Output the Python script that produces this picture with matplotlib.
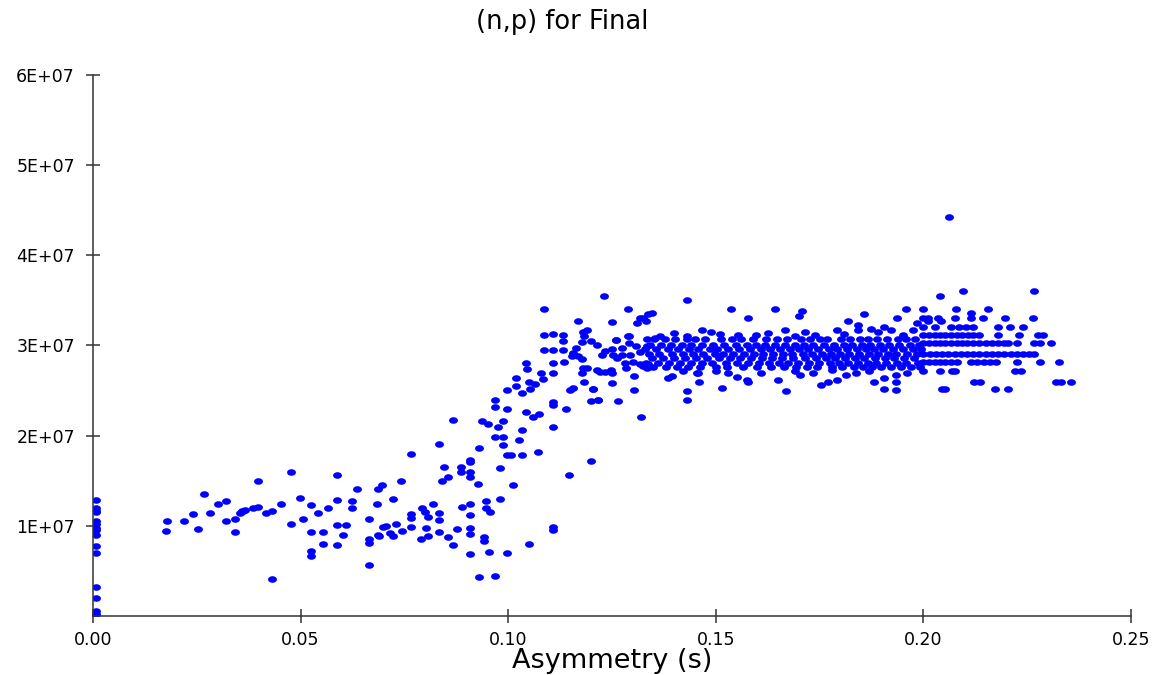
import matplotlib
matplotlib.use("Agg")
import matplotlib.pyplot as plt
from matplotlib.path import Path
from matplotlib.ticker import FixedLocator, FuncFormatter
import numpy as np

# rates are in units of 1E+07
zero_asym = [0.0007] * 15
zero_rate = [1.29, 1.20, 1.17, 1.15, 1.05, 1.02, 0.98, 0.95, 0.90, 0.78, 0.70, 0.32, 0.20, 0.05, 0.02]

low_asym = [0.0175, 0.0179, 0.0219, 0.0242, 0.0253, 0.0268, 0.0283, 0.0302, 0.0320, 0.0320,
            0.0342, 0.0342, 0.0354, 0.0358, 0.0362, 0.0366, 0.0385, 0.0398, 0.0398, 0.0417,
            0.0432, 0.0432, 0.0454, 0.0476, 0.0476, 0.0498, 0.0507, 0.0525, 0.0525, 0.0525,
            0.0525, 0.0543, 0.0555, 0.0555, 0.0565, 0.0587, 0.0587, 0.0587, 0.0587, 0.0603,
            0.0609, 0.0625, 0.0625, 0.0637, 0.0666, 0.0666, 0.0666, 0.0666, 0.0683, 0.0686,
            0.0686]
low_rate = [0.943, 1.054, 1.050, 1.130, 0.970, 1.354, 1.143, 1.246, 1.273, 1.054,
            1.077, 0.932, 1.143, 1.170, 1.160, 1.180, 1.200, 1.210, 1.495, 1.143,
            1.169, 0.407, 1.246, 1.598, 1.024, 1.313, 1.077, 1.232, 0.932, 0.725,
            0.670, 1.143, 0.932, 0.800, 1.195, 1.560, 1.287, 1.010, 0.790, 0.896,
            1.010, 1.273, 1.195, 1.406, 1.077, 0.858, 0.814, 0.566, 1.246, 1.406,
            0.896]

mid_asym = [0.0695, 0.0690, 0.0699, 0.0705, 0.0715, 0.0723, 0.0722, 0.0730, 0.0741, 0.0745,
            0.0766, 0.0766, 0.0766, 0.0766, 0.0789, 0.0792, 0.0800, 0.0808, 0.0801, 0.0808,
            0.0820, 0.0833, 0.0833, 0.0833, 0.0833, 0.0841, 0.0856, 0.0845, 0.0856, 0.0868,
            0.0868, 0.0876, 0.0886, 0.0886, 0.0890, 0.0908, 0.0908, 0.0908, 0.0908, 0.0908,
            0.0908, 0.0908, 0.0908, 0.0908, 0.0927, 0.0930, 0.0930, 0.0936, 0.0952, 0.0942,
            0.0942, 0.0946, 0.0946, 0.0956, 0.0954, 0.0968, 0.0968, 0.0968, 0.0968, 0.0976,
            0.0980, 0.0980, 0.0987, 0.0987, 0.0987, 0.0997, 0.0997, 0.0997, 0.1008, 0.0998]
mid_rate = [1.454, 0.891, 0.984, 0.999, 0.918, 0.891, 1.299, 1.024, 1.495, 0.947,
            1.798, 1.130, 1.085, 0.991, 0.855, 1.199, 1.158, 1.102, 0.973, 0.891,
            1.246, 1.912, 1.147, 1.065, 0.936, 1.495, 1.546, 1.654, 0.880, 2.175,
            0.788, 0.962, 1.654, 1.600, 1.206, 1.731, 1.709, 1.600, 1.546, 1.246,
            1.121, 0.973, 0.910, 0.685, 1.468, 1.861, 0.436, 2.168, 2.134, 0.873,
            0.836, 1.276, 1.195, 1.158, 0.714, 2.401, 2.316, 1.990, 0.447, 2.100,
            1.639, 1.299, 2.164, 1.990, 1.901, 2.505, 2.294, 1.784, 1.784, 0.696]

rise_asym = [0.1012, 0.1019, 0.1019, 0.1027, 0.1034, 0.1034, 0.1034, 0.1042, 0.1046, 0.1042,
             0.1050, 0.1050, 0.1052, 0.1065, 0.1060, 0.1074, 0.1073, 0.1080, 0.1085, 0.1087,
             0.1087, 0.1087, 0.1109, 0.1109, 0.1109, 0.1109, 0.1109, 0.1109, 0.1109, 0.1109,
             0.1109, 0.1131, 0.1131, 0.1131, 0.1135, 0.1139, 0.1146, 0.1149, 0.1157, 0.1169,
             0.1181, 0.1191, 0.1183, 0.1199, 0.1177, 0.1157, 0.1163, 0.1169, 0.1177, 0.1153,
             0.1181, 0.1189, 0.1177, 0.1183, 0.1205, 0.1199, 0.1217, 0.1199, 0.1213, 0.1233,
             0.1225, 0.1249, 0.1253, 0.1259, 0.1232, 0.1251, 0.1213, 0.1221, 0.1233, 0.1248,
             0.1251, 0.1249, 0.1265, 0.1289, 0.1292, 0.1273, 0.1273, 0.1263, 0.1281, 0.1293,
             0.1309, 0.1317, 0.1334, 0.1301, 0.1284, 0.1317, 0.1325, 0.1337, 0.1334, 0.1304,
             0.1303, 0.1288, 0.1292, 0.1311, 0.1317, 0.1337, 0.1321, 0.1205, 0.1217, 0.1259]
rise_rate = [1.457, 2.645, 2.553, 1.950, 2.478, 2.061, 1.784, 2.805, 2.738, 2.257,
             0.800, 2.600, 2.520, 2.570, 2.205, 2.240, 1.824, 2.694, 2.630, 3.407,
             3.119, 2.949, 3.130, 2.949, 2.805, 2.700, 2.378, 2.345, 2.098, 0.991,
             0.955, 3.119, 3.055, 2.949, 2.822, 2.294, 1.561, 2.508, 2.530, 3.274,
             3.150, 3.170, 3.100, 3.050, 3.040, 2.920, 2.970, 2.880, 2.850, 2.880,
             2.750, 2.750, 2.700, 2.600, 2.520, 2.380, 2.400, 1.717, 3.000, 2.940,
             2.900, 2.960, 2.900, 3.060, 3.552, 3.260, 2.730, 2.710, 2.710, 2.730,
             2.690, 2.580, 2.390, 3.110, 3.030, 2.970, 2.900, 2.860, 2.810, 2.900,
             2.990, 2.930, 2.990, 2.820, 2.750, 2.800, 2.770, 2.790, 2.750, 2.660,
             2.510, 3.407, 3.100, 3.250, 3.300, 3.350, 2.205, 2.516, 2.397, 3.063]

# scattered points around the plateau
edge_asym = [0.1354, 0.1366, 0.1430, 0.1466, 0.1488, 0.1554, 0.1598, 0.1667, 0.1690, 0.1715,
             0.1791, 0.1843, 0.1843, 0.1875, 0.1890, 0.1905, 0.1923, 0.1976, 0.1984, 0.1510,
             0.1625, 0.1740, 0.1810, 0.1950, 0.1400,
             0.1394, 0.1386, 0.1454, 0.1458, 0.1530, 0.1552, 0.1459, 0.1576, 0.1578, 0.1650,
             0.1703, 0.1735, 0.1781, 0.1753, 0.1771, 0.1793, 0.1814, 0.1838, 0.1880, 0.1905,
             0.1905, 0.1934, 0.1934, 0.1934, 0.1668, 0.1516, 0.1430, 0.1430, 0.1610, 0.1690,
             0.1870, 0.1960, 0.1420, 0.1500,
             0.1430, 0.1536, 0.1578, 0.1643, 0.1707, 0.1701, 0.1858, 0.1819, 0.1937, 0.1958,
             0.1346, 0.1333, 0.1325, 0.2062]
edge_rate = [3.08, 3.10, 3.11, 3.17, 3.15, 3.12, 3.12, 3.17, 3.10, 3.15,
             3.17, 3.23, 3.17, 3.18, 3.15, 3.20, 3.17, 3.17, 3.25, 3.13,
             3.14, 3.12, 3.13, 3.12, 3.14,
             2.66, 2.64, 2.70, 2.69, 2.70, 2.65, 2.60, 2.62, 2.59, 2.62,
             2.675, 2.70, 2.73, 2.56, 2.59, 2.62, 2.675, 2.70, 2.59, 2.52,
             2.645, 2.51, 2.59, 2.675, 2.50, 2.53, 2.50, 2.40, 2.70, 2.72,
             2.72, 2.70, 2.72, 2.72,
             3.50, 3.40, 3.30, 3.40, 3.38, 3.33, 3.35, 3.27, 3.30, 3.40,
             3.36, 3.27, 3.30, 4.43]

# dense band of the plateau, one list of asymmetries per rate level
band_rate = [3.07, 3.01, 2.96, 2.91, 2.86, 2.81, 2.76]
band_asym = [
    [0.1335, 0.1352, 0.1378, 0.1402, 0.1431, 0.1449, 0.1473, 0.1512, 0.1539, 0.1561, 0.1590, 0.1622,
     0.1648, 0.1671, 0.1705, 0.1728, 0.1752, 0.1769, 0.1801, 0.1823, 0.1847, 0.1866, 0.1889, 0.1912,
     0.1938, 0.1957, 0.1981],
    [0.1341, 0.1369, 0.1392, 0.1418, 0.1440, 0.1466, 0.1494, 0.1521, 0.1548, 0.1575, 0.1597, 0.1619,
     0.1643, 0.1666, 0.1690, 0.1713, 0.1735, 0.1760, 0.1784, 0.1808, 0.1829, 0.1852, 0.1871, 0.1895,
     0.1917, 0.1942, 0.1968, 0.1990],
    [0.1330, 0.1357, 0.1384, 0.1409, 0.1436, 0.1458, 0.1485, 0.1503, 0.1530, 0.1556, 0.1583, 0.1608,
     0.1630, 0.1655, 0.1679, 0.1701, 0.1722, 0.1747, 0.1772, 0.1793, 0.1817, 0.1840, 0.1862, 0.1880,
     0.1903, 0.1926, 0.1950, 0.1975, 0.1995],
    [0.1338, 0.1363, 0.1395, 0.1421, 0.1444, 0.1470, 0.1497, 0.1517, 0.1542, 0.1569, 0.1592, 0.1614,
     0.1639, 0.1661, 0.1684, 0.1709, 0.1731, 0.1756, 0.1778, 0.1799, 0.1821, 0.1845, 0.1869, 0.1891,
     0.1914, 0.1933, 0.1961, 0.1984],
    [0.1346, 0.1374, 0.1400, 0.1427, 0.1453, 0.1479, 0.1508, 0.1534, 0.1559, 0.1586, 0.1611, 0.1636,
     0.1659, 0.1687, 0.1716, 0.1741, 0.1765, 0.1788, 0.1812, 0.1836, 0.1858, 0.1884, 0.1907, 0.1929,
     0.1954, 0.1978],
    [0.1333, 0.1360, 0.1388, 0.1414, 0.1441, 0.1468, 0.1490, 0.1525, 0.1551, 0.1578, 0.1603, 0.1628,
     0.1652, 0.1675, 0.1697, 0.1724, 0.1749, 0.1775, 0.1796, 0.1819, 0.1843, 0.1866, 0.1887, 0.1910,
     0.1936, 0.1959, 0.1987],
    [0.1349, 0.1381, 0.1406, 0.1434, 0.1462, 0.1500, 0.1528, 0.1566, 0.1600, 0.1633, 0.1664, 0.1693,
     0.1720, 0.1744, 0.1781, 0.1805, 0.1833, 0.1855, 0.1877, 0.1898, 0.1922, 0.1946, 0.1970, 0.1993],
]

# high asymmetry tail, rates come out on discrete levels
tail_rate = [3.60, 3.55, 3.41, 3.36, 3.30, 3.27, 3.20, 3.12, 3.03, 2.91, 2.82, 2.72, 2.60, 2.52]
tail_asym = [
    [0.2095, 0.2266],
    [0.2040],
    [0.2000, 0.2078, 0.2155],
    [0.2115],
    [0.2000, 0.2010, 0.2035, 0.2076, 0.2115, 0.2144, 0.2197, 0.2263],
    [0.2011, 0.2043],
    [0.2000, 0.2027, 0.2067, 0.2087, 0.2103, 0.2119, 0.2179, 0.2209, 0.2240],
    [0.2000, 0.2013, 0.2027, 0.2040, 0.2053, 0.2067, 0.2080, 0.2093, 0.2107, 0.2120, 0.2135, 0.2179,
     0.2231, 0.2275, 0.2288],
    [0.2000, 0.2013, 0.2027, 0.2040, 0.2053, 0.2067, 0.2080, 0.2093, 0.2104, 0.2120, 0.2135, 0.2150,
     0.2165, 0.2180, 0.2195, 0.2205, 0.2225, 0.2267, 0.2280, 0.2307],
    [0.2000, 0.2015, 0.2030, 0.2045, 0.2060, 0.2075, 0.2090, 0.2105, 0.2120, 0.2135, 0.2150, 0.2165,
     0.2180, 0.2195, 0.2210, 0.2225, 0.2240, 0.2255, 0.2267],
    [0.2000, 0.2013, 0.2027, 0.2040, 0.2053, 0.2067, 0.2080, 0.2115, 0.2130, 0.2145, 0.2160, 0.2176,
     0.2225, 0.2282, 0.2327],
    [0.2000, 0.2040, 0.2068, 0.2076, 0.2220, 0.2235],
    [0.2122, 0.2136, 0.2319, 0.2331, 0.2355],
    [0.2046, 0.2053, 0.2173, 0.2205],
]

yticks = [1e7, 2e7, 3e7, 4e7, 5e7, 6e7]
xticks = [0.0, 0.05, 0.10, 0.15, 0.20, 0.25]


def collect():
    xs = zero_asym + low_asym + mid_asym + rise_asym + edge_asym
    ys = zero_rate + low_rate + mid_rate + rise_rate + edge_rate
    for lvl, row in zip(band_rate + tail_rate, band_asym + tail_asym):
        xs = xs + row
        ys = ys + [lvl] * len(row)
    return np.array(xs), np.array(ys) * 1e7


def main():
    xs, ys = collect()

    fig = plt.figure(figsize=(11.62, 6.75), dpi=100)
    ax = fig.add_axes([0.080, 0.0874, 0.8933, 0.8015])

    # slightly flattened dots
    t = np.linspace(0, 2 * np.pi, 40)
    dot = Path(np.column_stack([np.cos(t), 0.74 * np.sin(t)]), closed=True)
    ax.plot(xs, ys, linestyle='none', marker=dot, markersize=6.4,
            color='#0000ff', markeredgewidth=0)

    ax.set_xlim(0, 0.25)
    ax.set_ylim(0, 6e7)
    for s in ['top', 'right']:
        ax.spines[s].set_visible(False)
    for s in ['left', 'bottom']:
        ax.spines[s].set_color('#333333')
        ax.spines[s].set_linewidth(1.1)

    ax.xaxis.set_major_locator(FixedLocator(xticks))
    ax.yaxis.set_major_locator(FixedLocator(yticks))
    ax.xaxis.set_major_formatter(FuncFormatter(lambda v, p: "%.2f" % v))
    ax.yaxis.set_major_formatter(FuncFormatter(lambda v, p: "%dE+07" % round(v / 1e7)))
    ax.tick_params(axis='both', direction='inout', length=10, width=1.1,
                   color='#333333', labelsize=12.5)
    ax.tick_params(axis='y', pad=8)
    ax.tick_params(axis='x', pad=6)

    ax.set_xlabel("Asymmetry (s)", fontsize=19.5)
    ax.xaxis.set_label_coords(0.5, -0.083)
    ax.xaxis.label.set_va('center')

    fig.text(0.4837, 0.968, "(n,p) for Final", fontsize=18.5,
             ha='center', va='center')

    fig.savefig("out.png", dpi=100)


if __name__ == "__main__":
    main()
